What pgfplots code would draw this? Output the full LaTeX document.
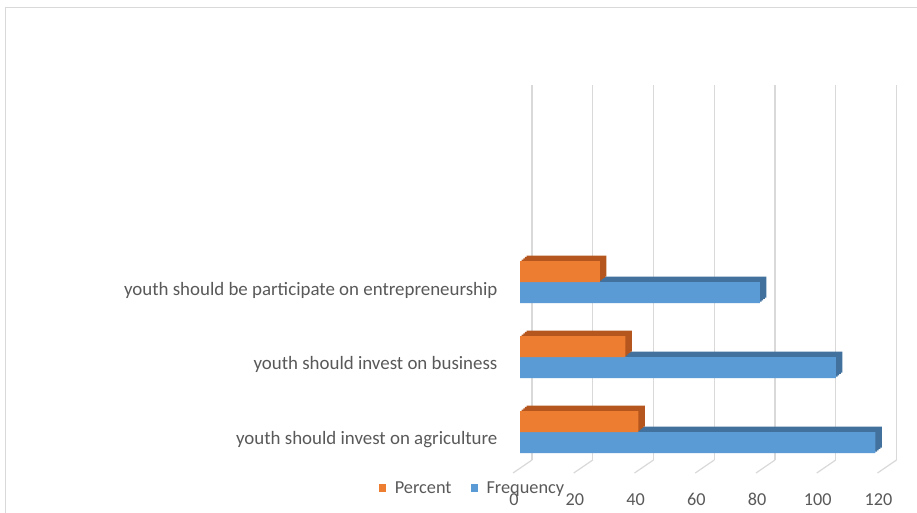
\documentclass[border=0pt]{standalone}
\usepackage{pgfplots}
\pgfplotsset{compat=1.18}
\usepackage{fontspec}
\setmainfont{Carlito}
\definecolor{orangeF}{HTML}{ED7D31}
\definecolor{orangeD}{HTML}{B5561E}
\definecolor{blueF}{HTML}{5B9BD5}
\definecolor{blueD}{HTML}{41719C}
\definecolor{gridgray}{HTML}{D9D9D9}
\definecolor{txt}{HTML}{595959}
\pgfplotstableread{
val pos
117 28
104 103
79 178
}\freq
\pgfplotstableread{
val pos
39.0 28
34.7 103
26.3 178
}\perc
\begin{document}
\begin{tikzpicture}
\useasboundingbox (0,0) rectangle (917pt,512pt);
\clip (0,0) rectangle (917pt,512pt);
\fill[white] (0,0) rectangle (917pt,512pt);
\draw[gridgray, line width=1pt] (5pt,-10pt) -- (5pt,504pt) -- (930pt,504pt);
% background axis: grid, tick labels, category labels, legend
\begin{axis}[
  at={(532pt,52pt)}, anchor=south west,
  scale only axis, width=364.5pt, height=375pt,
  xmin=0, xmax=120, ymin=0, ymax=375,
  clip=false,
  axis line style={draw=none},
  major tick length=0pt,
  xtick={0,20,...,120},
  xmajorgrids, grid style={gridgray, line width=1.2pt},
  ytick={20.5,95.5,170},
  yticklabels={youth should invest on agriculture, youth should invest on business, youth should be participate on entrepreneurship},
  yticklabel style={font=\fontsize{18.9pt}{20pt}\selectfont, text=txt, anchor=east, xshift=-31pt},
  xticklabel style={font=\fontsize{18.2pt}{20pt}\selectfont, text=txt, xshift=-18pt, yshift=-30pt},
  /pgf/number format/assume math mode=true,
  legend columns=2,
  legend style={draw=none, fill=none, at={(-0.166,-0.0747)}, anchor=center,
    font=\fontsize{18.3pt}{20pt}\selectfont, text=txt,
    nodes={inner sep=0pt},
    /tikz/every odd column/.append style={column sep=8.5pt},
    /tikz/every even column/.append style={column sep=19pt}},
  legend image code/.code={\fill[#1] (0pt,-3.8pt) rectangle (7.5pt,4pt);},
]
\pgfplotsinvokeforeach{0,20,...,120}{
  \draw[gridgray, line width=1.2pt] (axis cs:#1,0) -- ++(-19pt,-13pt);
}
\addlegendimage{fill=orangeF, draw=none}
\addlegendentry{Percent}
\addlegendimage{fill=blueF, draw=none}
\addlegendentry{Frequency}
\end{axis}
% bars: depth layers then front faces
\begin{axis}[
  at={(520pt,52pt)}, anchor=south west,
  scale only axis, width=364.5pt, height=375pt,
  xmin=0, xmax=120, ymin=0, ymax=375,
  hide axis, clip=false,
  xbar, bar width=21pt,
]
\addplot[draw=none, fill=blueD, bar shift=-10.5pt, xshift=1.6pt, yshift=1.4pt] table[x=val, y=pos] {\freq};
\addplot[draw=none, fill=blueD, bar shift=-10.5pt, xshift=3.25pt, yshift=2.75pt] table[x=val, y=pos] {\freq};
\addplot[draw=none, fill=blueD, bar shift=-10.5pt, xshift=4.9pt, yshift=4.1pt] table[x=val, y=pos] {\freq};
\addplot[draw=none, fill=blueD, bar shift=-10.5pt, xshift=6.5pt, yshift=5.5pt] table[x=val, y=pos] {\freq};
\addplot[draw=none, fill=orangeD, bar shift=10.5pt, xshift=1.6pt, yshift=1.4pt] table[x=val, y=pos] {\perc};
\addplot[draw=none, fill=orangeD, bar shift=10.5pt, xshift=3.25pt, yshift=2.75pt] table[x=val, y=pos] {\perc};
\addplot[draw=none, fill=orangeD, bar shift=10.5pt, xshift=4.9pt, yshift=4.1pt] table[x=val, y=pos] {\perc};
\addplot[draw=none, fill=orangeD, bar shift=10.5pt, xshift=6.5pt, yshift=5.5pt] table[x=val, y=pos] {\perc};
\addplot[draw=none, fill=blueF, bar shift=-10.5pt] table[x=val, y=pos] {\freq};
\addplot[draw=none, fill=orangeF, bar shift=10.5pt] table[x=val, y=pos] {\perc};
\end{axis}
\end{tikzpicture}
\end{document}
